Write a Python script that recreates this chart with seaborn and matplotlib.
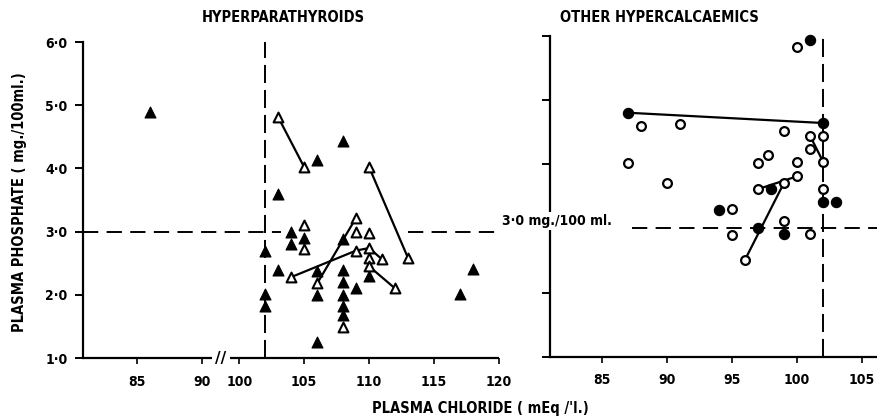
import numpy as np
import pandas as pd
import matplotlib
matplotlib.use("Agg")
import matplotlib.pyplot as plt
import seaborn as sns

# ---------------- data ----------------
y_ticks = [1.0, 2.0, 3.0, 4.0, 5.0, 6.0]
y_tick_labels = ["1·0", "2·0", "3·0", "4·0", "5·0", "6·0"]
hp_x_ticks = [85, 90, 100, 105, 110, 115, 120]
oh_x_ticks = [85, 90, 95, 100, 105]

panel_titles = ["HYPERPARATHYROIDS", "OTHER HYPERCALCAEMICS"]
y_label = "PLASMA PHOSPHATE ( mg./100ml.)"
x_label = "PLASMA CHLORIDE ( mEq /'l.)"
limit_label = "3·0 mg./100 ml."

phosphate_limit = 3.0
chloride_limit = 102

# Hyperparathyroids: solid triangles
hp_solid_x = [86, 108, 106, 103, 104, 104, 105, 102, 103, 106,
              108, 108, 108, 108, 108, 108, 106, 106, 109, 110,
              117, 118, 102, 102]
hp_solid_y = [4.90, 4.43, 4.14, 3.60, 3.00, 2.80, 2.90, 2.70, 2.40, 2.38,
              2.88, 2.40, 2.20, 2.00, 1.82, 1.68, 2.00, 1.26, 2.10, 2.30,
              2.02, 2.41, 2.02, 1.82]
# Hyperparathyroids: open triangles (case > 0 -> serial readings joined)
hp_open_x = [103, 105, 110, 113, 105, 105, 104, 109, 110, 111,
             106, 109, 109, 110, 110, 110, 112, 108]
hp_open_y = [4.81, 4.02, 4.02, 2.58, 3.10, 2.72, 2.28, 2.70, 2.74, 2.56,
             2.18, 3.22, 3.00, 2.97, 2.59, 2.45, 2.10, 1.49]
hp_open_case = [1, 1, 2, 2, 0, 0, 3, 3, 3, 3,
                4, 4, 0, 0, 0, 5, 5, 0]

# Other hypercalcaemics: solid circles
oh_solid_x = [87, 102, 101, 94, 98, 97, 99, 102, 103]
oh_solid_y = [4.80, 4.64, 5.93, 3.28, 3.61, 3.00, 2.91, 3.41, 3.41]
oh_solid_case = [1, 1, 0, 0, 0, 0, 0, 0, 0]
# Other hypercalcaemics: open circles
oh_open_x = [100, 88, 91, 87, 90, 95, 95, 96, 99, 97, 100,
             97, 97.8, 99, 100, 101, 102, 101, 102, 102, 99, 101]
oh_open_y = [5.82, 4.60, 4.62, 4.01, 3.70, 3.30, 2.90, 2.51, 3.71, 3.61, 3.81,
             4.01, 4.14, 4.52, 4.04, 4.44, 4.04, 4.23, 4.44, 3.61, 3.12, 2.91]
oh_open_case = [0, 0, 0, 0, 0, 0, 0, 2, 2, 3, 3,
                0, 0, 0, 0, 4, 4, 0, 0, 0, 0, 0]

# ---------------- styling ----------------
sns.set_theme(style="ticks")
plt.rcParams["font.family"] = ["DejaVu Sans"]
plt.rcParams["lines.scale_dashes"] = False
FONT = dict(family=["DejaVu Sans"], fontweight="bold", fontstretch="condensed")
INK = "black"

W, H = 877, 416
fig = plt.figure(figsize=(W / 100, H / 100), dpi=100)
fig.patch.set_facecolor("white")


def box(x0, y0, x1, y1):
    return [x0 / W, 1 - y1 / H, (x1 - x0) / W, (y1 - y0) / H]


ax1 = fig.add_axes(box(83, 42, 499, 358))
ax2 = fig.add_axes(box(550, 35.7, 877, 356.7))

# broken chloride axis for the left panel (gap between 91 and 99)
GA, GB, GW = 91.0, 99.0, 0.87


def fwd(x):
    x = np.asarray(x, float)
    return np.where(x <= GA, x,
                    np.where(x >= GB, x - (GB - GA) + GW,
                             GA + (x - GA) * GW / (GB - GA)))


def inv(u):
    u = np.asarray(u, float)
    return np.where(u <= GA, u,
                    np.where(u >= GA + GW, u + (GB - GA) - GW,
                             GA + (u - GA) * (GB - GA) / GW))


ax1.set_xscale("function", functions=(fwd, inv))

hp_solid = pd.DataFrame({"chloride": hp_solid_x, "phosphate": hp_solid_y})
hp_open = pd.DataFrame({"chloride": hp_open_x, "phosphate": hp_open_y, "case": hp_open_case})
oh_solid = pd.DataFrame({"chloride": oh_solid_x, "phosphate": oh_solid_y, "case": oh_solid_case})
oh_open = pd.DataFrame({"chloride": oh_open_x, "phosphate": oh_open_y, "case": oh_open_case})


def links(ax, df):
    d = df[df["case"] > 0]
    sns.lineplot(data=d, x="chloride", y="phosphate", units="case", estimator=None,
                 sort=False, color=INK, lw=1.6, ax=ax, legend=False, zorder=2)


links(ax1, hp_open)
links(ax2, oh_solid)
links(ax2, oh_open)

sns.scatterplot(data=hp_solid, x="chloride", y="phosphate", marker="^", s=62,
                color=INK, edgecolor=INK, linewidth=0.8, ax=ax1, zorder=4,
                clip_on=False, legend=False)
sns.scatterplot(data=hp_open, x="chloride", y="phosphate", marker="^", s=50,
                color="white", edgecolor=INK, linewidth=1.5, ax=ax1, zorder=4,
                clip_on=False, legend=False)
sns.scatterplot(data=oh_solid, x="chloride", y="phosphate", marker="o", s=55,
                color=INK, edgecolor=INK, linewidth=0.8, ax=ax2, zorder=4,
                clip_on=False, legend=False)
sns.scatterplot(data=oh_open, x="chloride", y="phosphate", marker="o", s=40,
                color="white", edgecolor=INK, linewidth=1.6, ax=ax2, zorder=4,
                clip_on=False, legend=False)

# reference lines
dash_h = (0, (11, 6))
dash_v = (0, (13, 5))
for ax in (ax1, ax2):
    ax.axvline(chloride_limit, color=INK, lw=1.4, ls=dash_v, zorder=1)
ax1.hlines(phosphate_limit, 80.84, 103.2, color=INK, lw=1.4, linestyles=[dash_h], zorder=1)
ax1.hlines(phosphate_limit, 113.0, 120.0, color=INK, lw=1.4, linestyles=[dash_h],
           zorder=1, clip_on=False)
ax2.hlines(phosphate_limit, 87.3, 106.15, color=INK, lw=1.4, linestyles=[dash_h],
           zorder=1, clip_on=False)

# axes
ax1.set_xlim(80.84, 120)
ax2.set_xlim(81.0, 106.15)
for ax in (ax1, ax2):
    ax.set_ylim(1.0, 6.0)
    ax.set_facecolor("white")
    ax.set_xlabel("")
    ax.set_ylabel("")
    for s in ("top", "right"):
        ax.spines[s].set_visible(False)
    ax.spines["left"].set_linewidth(1.6)
    ax.spines["left"].set_color(INK)
    ax.spines["bottom"].set_linewidth(1.6)
    ax.spines["bottom"].set_color(INK)
    ax.tick_params(axis="x", direction="out", length=4, width=1.2, color=INK, pad=8)
    ax.tick_params(axis="y", direction="out", length=6, width=1.4, color=INK, pad=5)

ax1.spines["bottom"].set_visible(False)
ax1.hlines(1.0, 80.84, 90.76, color=INK, lw=1.6, clip_on=False, zorder=3)
ax1.hlines(1.0, 99.3, 120.0, color=INK, lw=1.6, clip_on=False, zorder=3)
ax1.text(95, 1.0, "//", ha="center", va="center", fontsize=11, color=INK,
         fontweight="bold", clip_on=False)

ax1.set_xticks(hp_x_ticks, labels=[str(v) for v in hp_x_ticks])
ax2.set_xticks(oh_x_ticks, labels=[str(v) for v in oh_x_ticks])
ax1.set_yticks(y_ticks, labels=y_tick_labels)
ax2.set_yticks(y_ticks, labels=[])
ax1.xaxis.set_minor_locator(matplotlib.ticker.NullLocator())
for ax in (ax1, ax2):
    for lab in ax.get_xticklabels() + ax.get_yticklabels():
        lab.set_fontsize(10)
        lab.set_fontweight("bold")
        lab.set_fontstretch("condensed")
        lab.set_color(INK)

# texts
fig.text(283 / W, 1 - 18 / H, panel_titles[0], ha="center", va="center", fontsize=10.5, color=INK, **FONT)
fig.text(659 / W, 1 - 18 / H, panel_titles[1], ha="center", va="center", fontsize=10.5, color=INK, **FONT)
fig.text(20 / W, 1 - 202 / H, y_label, ha="center", va="center", rotation=90, fontsize=10.5, color=INK, **FONT)
fig.text(480 / W, 1 - 408 / H, x_label, ha="center", va="center", fontsize=10.5, color=INK, **FONT)
fig.text(502 / W, 1 - 221 / H, limit_label, ha="left", va="center", fontsize=10, color=INK,
         bbox=dict(facecolor="white", edgecolor="none", pad=1.5), zorder=10, **FONT)

fig.savefig("out.png", dpi=100, facecolor="white")
